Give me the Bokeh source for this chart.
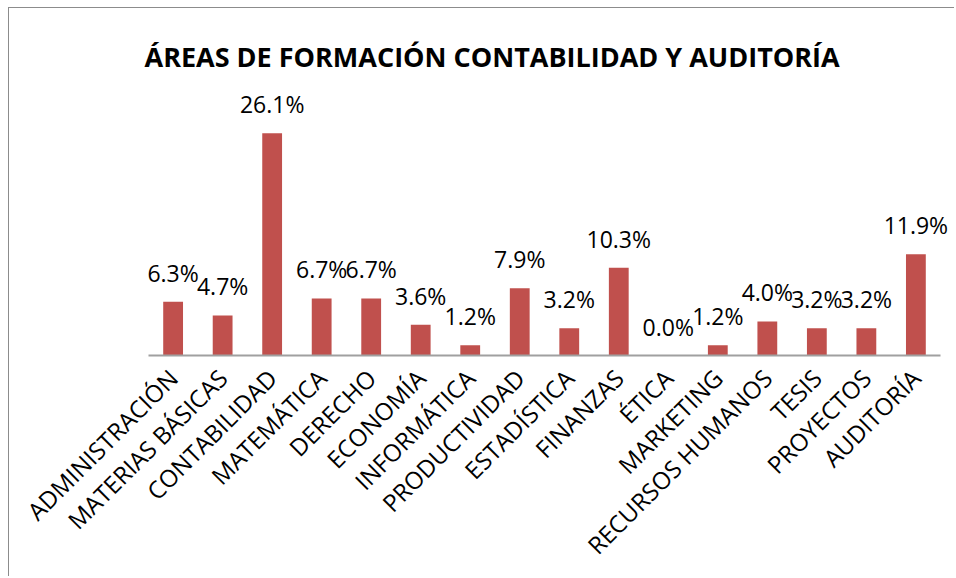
import math
from bokeh.plotting import figure
from bokeh.models import ColumnDataSource, LabelSet, Title, FactorRange, Range1d
from bokeh.core.properties import value
from bokeh.embed import file_html
from bokeh.resources import INLINE

categories = ["ADMINISTRACIÓN", "MATERIAS BÁSICAS", "CONTABILIDAD", "MATEMÁTICA",
              "DERECHO", "ECONOMÍA", "INFORMÁTICA", "PRODUCTIVIDAD", "ESTADÍSTICA",
              "FINANZAS", "ÉTICA", "MARKETING", "RECURSOS HUMANOS", "TESIS",
              "PROYECTOS", "AUDITORÍA"]
values = [6.3, 4.7, 26.1, 6.7, 6.7, 3.6, 1.2, 7.9, 3.2, 10.3, 0.0, 1.2, 4.0, 3.2, 3.2, 11.9]
labels = [f"{v:.1f}%" for v in values]
title_text = "ÁREAS DE FORMACIÓN CONTABILIDAD Y AUDITORÍA"

src = ColumnDataSource(dict(cat=categories, val=values, lab=labels))

xr = FactorRange(*categories, range_padding=0.3, range_padding_units="absolute")
p = figure(width=946, height=569, output_backend="svg", toolbar_location=None,
           x_range=xr, y_range=Range1d(0, 33),
           min_border_left=124, min_border_right=0, min_border_top=66,
           min_border_bottom=222)
p.styles = {"border-left": "1px solid #8c8c8c", "border-top": "1px solid #8c8c8c",
            "margin-left": "8px", "margin-top": "7px"}
p.outline_line_color = None
p.xgrid.grid_line_color = None
p.ygrid.grid_line_color = None
p.yaxis.visible = False

t = Title(text=title_text, align="left", text_font="Open Sans",
          text_font_style="bold", text_font_size="27px", text_color="#000000",
          offset=11, standoff=0, padding=(0, 0, 10, 0))
p.add_layout(t, "above")

p.vbar(x="cat", top="val", width=0.4, source=src, fill_color="#C0504D", line_color=None)

ls = LabelSet(x="cat", y="val", text="lab", source=src, text_align="center",
              text_baseline="alphabetic", y_offset=20, text_font=value("Open Sans"),
              text_font_size="23px", text_color="#000000")
p.add_layout(ls)

ax = p.xaxis[0]
ax.bounds = (0, len(categories))
ax.major_label_orientation = math.pi / 4
ax.major_label_text_font = "Open Sans"
ax.major_label_text_font_size = "24px"
ax.major_label_text_color = "#000000"
ax.major_tick_line_color = None
ax.minor_tick_line_color = None
ax.axis_line_color = "#A0A0A0"
ax.axis_line_width = 2
ax.major_label_standoff = 12

open("out.html", "w").write(file_html(p, INLINE))
